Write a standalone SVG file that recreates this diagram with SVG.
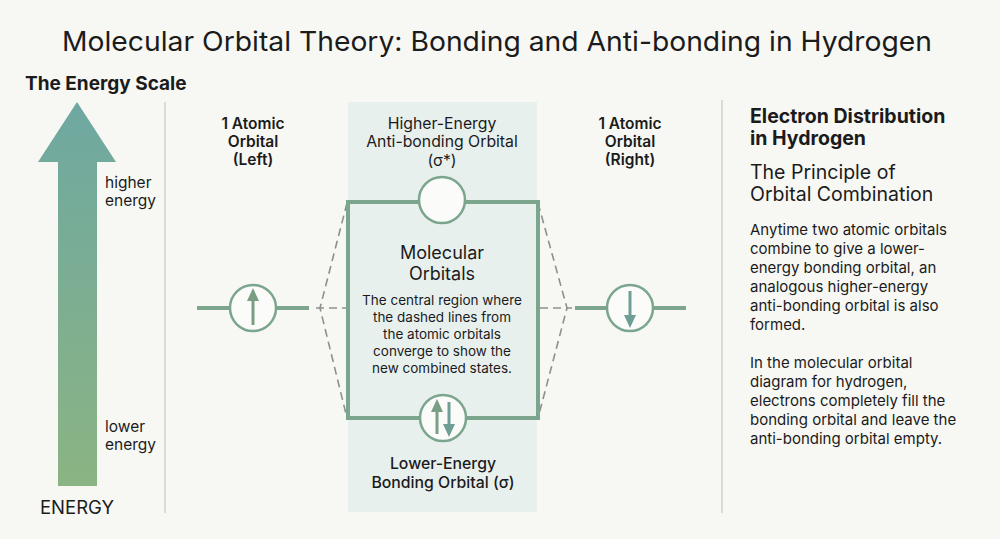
<svg xmlns="http://www.w3.org/2000/svg" width="1000" height="539" viewBox="0 0 1000 539">
<defs>
<linearGradient id="eg" x1="0" y1="0" x2="0" y2="1">
<stop offset="0" stop-color="#6ea8a1"/>
<stop offset="1" stop-color="#8bb483"/>
</linearGradient>
<style>
text{font-family:Inter,"Liberation Sans",sans-serif;fill:#1b1b1b}
.t{font-size:27px}
.h{font-size:19.5px;font-weight:700}
.lab{font-size:15.5px;font-weight:600;text-anchor:middle}
.small{font-size:15.5px}
.c{text-anchor:middle}
.body{font-size:15px}
.mo{font-size:18px;text-anchor:middle}
.desc{font-size:13.5px;text-anchor:middle}
.ct{font-size:15.8px;text-anchor:middle}
.lvl{stroke:#7ba58d;stroke-width:4;fill:none}
.orb{stroke:#7ba58d;stroke-width:2.5;fill:#fbfcfa}
.dash{stroke:#8c918e;stroke-width:1.6;stroke-dasharray:8 5;fill:none}
.div{stroke:#cfd2cf;stroke-width:1.5}
</style>
</defs>
<rect width="1000" height="539" fill="#f7f8f4"/>
<text class="t c" x="497" y="51" textLength="870" lengthAdjust="spacingAndGlyphs">Molecular Orbital Theory: Bonding and Anti-bonding in Hydrogen</text>

<g id="energy-scale">
<text class="h" x="25" y="90" style="font-size:19px">The Energy Scale</text>
<polygon points="77,102 116,162 97,162 97,486 58,486 58,162 38,162" fill="url(#eg)"/>
<text class="small" x="105" y="188">higher</text>
<text class="small" x="105" y="206">energy</text>
<text class="small" x="105" y="432">lower</text>
<text class="small" x="105" y="450">energy</text>
<text x="40" y="514" style="font-size:18.5px">ENERGY</text>
</g>
<line class="div" x1="165" y1="102" x2="165" y2="513"/>
<line class="div" x1="722" y1="100" x2="722" y2="513"/>

<g id="center-panel">
<rect x="348" y="102" width="189" height="410" fill="#e8f0ee"/>
</g>

<g id="connectors">
<polyline class="dash" points="347,203 320,308 347,418"/>
<line class="dash" x1="316" y1="308" x2="347" y2="308"/>
<polyline class="dash" points="538,203 567,308 538,418"/>
<line class="dash" x1="540" y1="308" x2="572" y2="308"/>
</g>

<g id="molecular-orbitals">
<rect x="348" y="202" width="190" height="216" class="lvl" stroke-width="3.2"/>
<text class="mo" x="442" y="259">Molecular</text>
<text class="mo" x="442" y="280">Orbitals</text>
<text class="desc" x="442" y="305">The central region where</text>
<text class="desc" x="442" y="322">the dashed lines from</text>
<text class="desc" x="442" y="339">the atomic orbitals</text>
<text class="desc" x="442" y="356">converge to show the</text>
<text class="desc" x="442" y="373">new combined states.</text>
</g>

<g id="antibonding">
<text class="ct" x="442" y="129">Higher-Energy</text>
<text class="ct" x="442" y="147">Anti-bonding Orbital</text>
<text class="ct" x="442" y="166">(σ*)</text>
<circle class="orb" cx="442" cy="200" r="23"/>
</g>

<g id="bonding">
<circle class="orb" cx="443" cy="418" r="23" fill="#e8f0ee"/>
<line x1="437" y1="434" x2="437" y2="410" stroke="#7a9e86" stroke-width="3"/>
<polygon points="437,399 431,412 443,412" fill="#7a9e86"/>
<line x1="449" y1="402" x2="449" y2="426" stroke="#6f9e94" stroke-width="3"/>
<polygon points="449,437 443,424 455,424" fill="#6f9e94"/>
<text class="ct" x="443" y="469" style="font-weight:500">Lower-Energy</text>
<text class="ct" x="443" y="488" style="font-weight:500">Bonding Orbital (σ)</text>
</g>

<g id="left-atomic">
<text class="lab" x="253" y="129">1 Atomic</text>
<text class="lab" x="253" y="147">Orbital</text>
<text class="lab" x="253" y="165">(Left)</text>
<line class="lvl" x1="197" y1="308" x2="309" y2="308" stroke="#82a98a"/>
<circle class="orb" cx="253" cy="308" r="23" stroke="#82a98a"/>
<line x1="253" y1="325" x2="253" y2="298" stroke="#7a9e82" stroke-width="3"/>
<polygon points="253,288 247,301 259,301" fill="#7a9e82"/>
</g>

<g id="right-atomic">
<text class="lab" x="630" y="129">1 Atomic</text>
<text class="lab" x="630" y="147">Orbital</text>
<text class="lab" x="630" y="165">(Right)</text>
<line class="lvl" x1="575" y1="308" x2="686" y2="308" stroke="#6f9e94"/>
<circle class="orb" cx="630" cy="308" r="23" stroke="#6f9e94"/>
<line x1="630" y1="291" x2="630" y2="318" stroke="#6f9e94" stroke-width="3"/>
<polygon points="630,328 624,315 636,315" fill="#6f9e94"/>
</g>

<g id="explanation">
<text class="h" x="750" y="123">Electron Distribution</text>
<text class="h" x="750" y="145">in Hydrogen</text>
<text x="750" y="179" style="font-size:19.5px">The Principle of</text>
<text x="750" y="201" style="font-size:19.5px">Orbital Combination</text>
<text class="body" x="750" y="235">Anytime two atomic orbitals</text>
<text class="body" x="750" y="254">combine to give a lower-</text>
<text class="body" x="750" y="273">energy bonding orbital, an</text>
<text class="body" x="750" y="292">analogous higher-energy</text>
<text class="body" x="750" y="311">anti-bonding orbital is also</text>
<text class="body" x="750" y="330">formed.</text>
<text class="body" x="750" y="368">In the molecular orbital</text>
<text class="body" x="750" y="387">diagram for hydrogen,</text>
<text class="body" x="750" y="406">electrons completely fill the</text>
<text class="body" x="750" y="425">bonding orbital and leave the</text>
<text class="body" x="750" y="444">anti-bonding orbital empty.</text>
</g>
</svg>
